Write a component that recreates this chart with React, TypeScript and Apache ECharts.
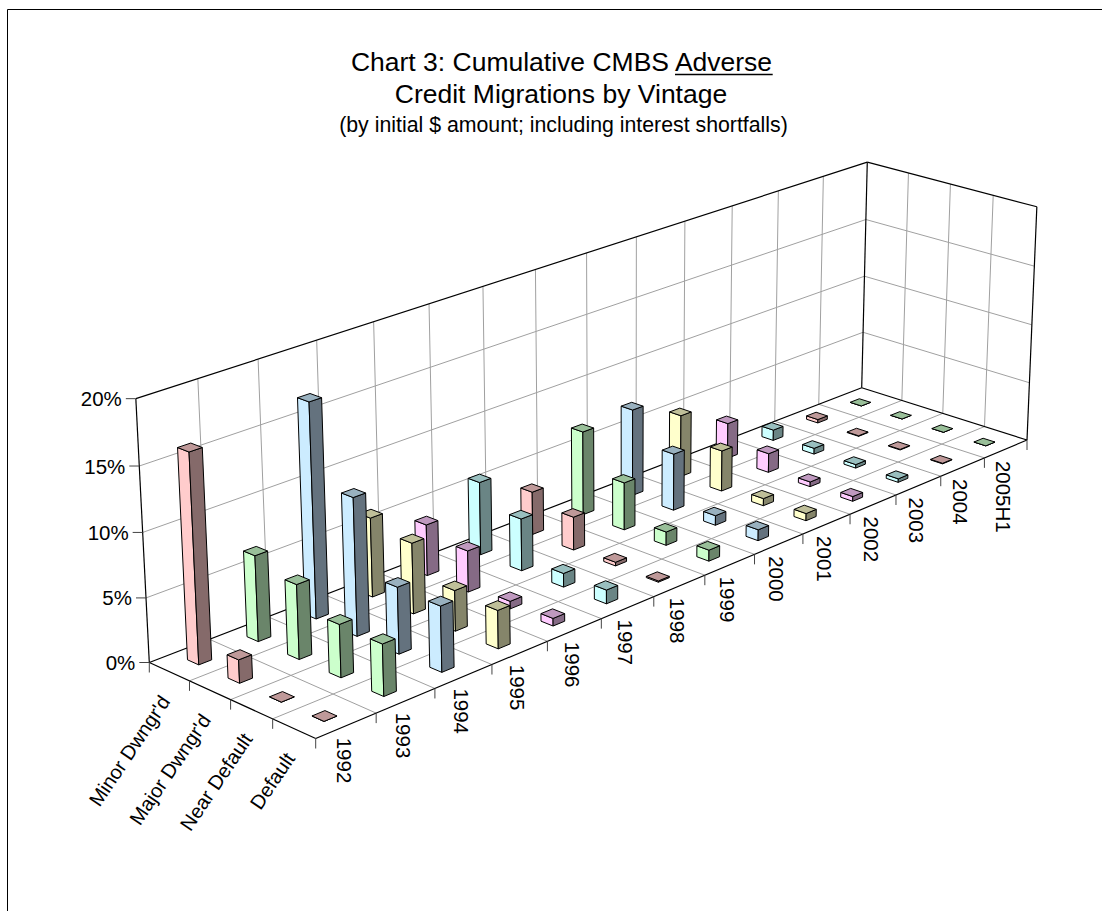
import React, { useEffect, useRef } from "react";
import * as echarts from "echarts";

// Cumulative adverse credit migrations, percent of initial amount, per vintage.
const vintages = ["1992", "1993", "1994", "1995", "1996", "1997", "1998", "1999", "2000", "2001", "2002", "2003", "2004", "2005H1"];
const grades = ["Minor Dwngr'd", "Major Dwngr'd", "Near Default", "Default"];
const yTicks = [0, 5, 10, 15, 20];

const minorDwngrd = [16.2, 6.7, 16.9, 6.3, 4.1, 5.9, 3.5, 6.9, 7.2, 5.2, 3.0, 0.9, 0.3, 0];
const majorDwngrd = [1.8, 5.8, 10.8, 5.6, 3.3, 4.2, 2.7, 3.9, 4.7, 3.4, 1.6, 0.5, 0.05, 0];
const nearDefault = [0, 4.1, 5.2, 3.2, 0.6, 1.1, 0.3, 1.1, 0.8, 0.6, 0.4, 0.3, 0.05, 0];
const defaulted = [0, 4.0, 5.1, 3.0, 0.6, 1.1, 0.1, 0.9, 0.9, 0.6, 0.4, 0.3, 0.05, 0];
const gradeValues = [minorDwngrd, majorDwngrd, nearDefault, defaulted];

// Faces cycle through six pastels along the vintage axis: [side, shaded side, top].
const palette = [
  ["#FFCCCC", "#856A6A", "#BF9999"],
  ["#CCFFCC", "#6A856A", "#99BF99"],
  ["#CCECFF", "#64727E", "#99B1BF"],
  ["#FFFFCC", "#85856A", "#BFBF99"],
  ["#FFCCFF", "#856A85", "#BF99BF"],
  ["#CCFFFF", "#6A8585", "#99BFBF"],
];

const FONT = '"Liberation Sans", Arial, sans-serif';
const WIDTH = 1102;
const HEIGHT = 911;
const BAR_FRACTION_U = 0.215;
const BAR_FRACTION_V = 0.28;

type P = [number, number];
// Screen positions of the box corners, used to fit the perspective camera.
const floorBackLeft: P = [149.3, 662.5];
const floorBackRight: P = [861.7, 387.7];
const floorFrontRight: P = [1027, 440];
const floorFrontLeft: P = [315.7, 738.5];
const topBackLeft: P = [136, 399.3];
const topBackRight: P = [867.3, 161.7];
const topFrontRight: P = [1036.7, 206.7];

function fitCamera() {
  const [x0, y0] = floorBackLeft;
  const [x1, y1] = floorBackRight;
  const [x2, y2] = floorFrontRight;
  const [x3, y3] = floorFrontLeft;
  const dx1 = x1 - x2, dx2 = x3 - x2, sx = x0 - x1 + x2 - x3;
  const dy1 = y1 - y2, dy2 = y3 - y2, sy = y0 - y1 + y2 - y3;
  const den = dx1 * dy2 - dx2 * dy1;
  const g = (sx * dy2 - dx2 * sy) / den;
  const h = (dx1 * sy - sx * dy1) / den;
  const a = x1 - x0 + g * x1, b = x3 - x0 + h * x3, c = x0;
  const d = y1 - y0 + g * y1, e = y3 - y0 + h * y3, f = y0;

  // Height column: least squares over the three visible top corners.
  const tops: [number, number, P][] = [[0, 0, topBackLeft], [1, 0, topBackRight], [1, 1, topFrontRight]];
  const rows: number[][] = [];
  for (const [u, v, [X, Y]] of tops) {
    const D = g * u + h * v + 1;
    rows.push([1, 0, -X, X * D - (a * u + b * v + c)]);
    rows.push([0, 1, -Y, Y * D - (d * u + e * v + f)]);
  }
  const M = [0, 1, 2].map((i) => [0, 1, 2, 3].map((j) => rows.reduce((s, r) => s + r[i] * r[j], 0)));
  for (let i = 0; i < 3; i++) {
    const piv = M[i][i];
    for (let j = i; j < 4; j++) M[i][j] /= piv;
    for (let k = 0; k < 3; k++) {
      if (k === i) continue;
      const t = M[k][i];
      for (let j = i; j < 4; j++) M[k][j] -= t * M[i][j];
    }
  }
  const p = M[0][3], q = M[1][3], r = M[2][3];
  return (u: number, v: number, w: number): P => {
    const D = g * u + h * v + r * w + 1;
    return [(a * u + b * v + c + p * w) / D, (d * u + e * v + f + q * w) / D];
  };
}
const project = fitCamera();

const line = (from: P, to: P, stroke: string, lineWidth = 1) => ({
  type: "line",
  silent: true,
  shape: { x1: from[0], y1: from[1], x2: to[0], y2: to[1] },
  style: { stroke, lineWidth },
});

const GRID_GREY = "#A0A0A0";
const AXIS_BLACK = "#000000";
const TICK_GREY = "#444444";

// Walls, floor, tick marks and tick labels of the box.
function renderFrame() {
  const children: any[] = [];
  const nU = vintages.length;
  const nV = grades.length;
  for (let i = 1; i < nU; i++) {
    const u = i / nU;
    children.push(line(project(u, 0, 0), project(u, 0, 1), GRID_GREY));
    children.push(line(project(u, 0, 0), project(u, 1, 0), GRID_GREY));
  }
  for (let j = 1; j < nV; j++) {
    const v = j / nV;
    children.push(line(project(1, v, 0), project(1, v, 1), GRID_GREY));
    children.push(line(project(0, v, 0), project(1, v, 0), GRID_GREY));
  }
  yTicks.slice(1, -1).forEach((t) => {
    const w = t / 20;
    children.push(line(project(0, 0, w), project(1, 0, w), GRID_GREY));
    children.push(line(project(1, 0, w), project(1, 1, w), GRID_GREY));
  });

  const outline: [P, P][] = [
    [project(0, 0, 0), project(0, 0, 1)],
    [project(0, 0, 1), project(1, 0, 1)],
    [project(1, 0, 1), project(1, 0, 0)],
    [project(1, 0, 1), project(1, 1, 1)],
    [project(1, 1, 1), project(1, 1, 0)],
    [project(0, 0, 0), project(1, 0, 0)],
    [project(1, 0, 0), project(1, 1, 0)],
    [project(1, 1, 0), project(0, 1, 0)],
    [project(0, 1, 0), project(0, 0, 0)],
  ];
  outline.forEach(([a, b]) => children.push(line(a, b, AXIS_BLACK, 1.2)));

  yTicks.forEach((t) => {
    const [x, y] = project(0, 0, t / 20);
    children.push(line([x - 10, y], [x, y], TICK_GREY));
    children.push({
      type: "text",
      silent: true,
      style: { text: `${t}%`, x: x - 14, y, align: "right", verticalAlign: "middle", fill: "#000", font: `20.5px ${FONT}` },
    });
  });

  for (let j = 0; j <= nV; j++) {
    const [x, y] = project(0, j / nV, 0);
    children.push(line([x, y], [x, y + 10], TICK_GREY));
  }
  grades.forEach((name, j) => {
    const [x, y] = project(0, (j + 0.5) / nV, 0);
    children.push({
      type: "text",
      silent: true,
      x: x - 4,
      y: y + 26,
      rotation: (56 * Math.PI) / 180,
      style: { text: name, x: 0, y: 0, align: "right", verticalAlign: "middle", fill: "#000", font: `20px ${FONT}` },
    });
  });

  for (let i = 1; i <= nU; i++) {
    const [x, y] = project(i / nU, 1, 0);
    children.push(line([x, y], [x, y + 10], TICK_GREY));
  }
  vintages.forEach((name, i) => {
    const [x, y] = project((i + 0.5) / nU, 1, 0);
    children.push({
      type: "text",
      silent: true,
      x: x - 2,
      y: y + 12,
      rotation: -Math.PI / 2,
      style: { text: name, x: 0, y: 0, align: "left", verticalAlign: "middle", fill: "#000", font: `20.5px ${FONT}` },
    });
  });
  return { type: "group", children };
}

// One column: the value goes through the hidden cartesian axes, then through the camera.
function renderColumn(params: any, api: any) {
  const vintageIdx = api.value(0);
  const gradeIdx = api.value(1);
  const value = api.value(2);
  const sys = params.coordSys;
  const anchor = api.coord([vintageIdx, value]);
  const size = api.size([1, 0]);
  const uc = (anchor[0] - sys.x) / sys.width;
  const w = (sys.y + sys.height - anchor[1]) / sys.height;
  const hu = ((size[0] / sys.width) * BAR_FRACTION_U) / 2;
  const vc = (gradeIdx + 0.5) / grades.length;
  const hv = ((1 / grades.length) * BAR_FRACTION_V) / 2;

  const left = (h: number) => project(uc - hu, vc - hv, h);
  const front = (h: number) => project(uc - hu, vc + hv, h);
  const right = (h: number) => project(uc + hu, vc + hv, h);
  const back = (h: number) => project(uc + hu, vc - hv, h);
  const colors = palette[vintageIdx % palette.length];
  const face = (points: P[], fill: string) => ({
    type: "polygon",
    silent: true,
    shape: { points },
    style: { fill, stroke: "#000", lineWidth: 1, lineJoin: "round" },
  });
  return {
    type: "group",
    children: [
      face([left(0), front(0), front(w), left(w)], colors[0]),
      face([front(0), right(0), right(w), front(w)], colors[1]),
      face([left(w), front(w), right(w), back(w)], colors[2]),
    ],
  };
}

// Far rows first so nearer columns paint over them.
const columnData: number[][] = [];
gradeValues.forEach((values, g) => {
  for (let i = values.length - 1; i >= 0; i--) columnData.push([i, g, values[i]]);
});

export default function App() {
  const ref = useRef<HTMLDivElement>(null);
  useEffect(() => {
    const chart = echarts.init(ref.current!, undefined, { renderer: "svg" });
    const titleFont = { fontFamily: FONT, fontWeight: "normal" as const, color: "#000" };
    chart.setOption({
      animation: false,
      backgroundColor: "#fff",
      title: [
        { text: "Chart 3: Cumulative CMBS Adverse", left: 556.5, top: 43, textAlign: "center", textStyle: { ...titleFont, fontSize: 26.5 } },
        { text: "Credit Migrations by Vintage", left: 556, top: 75.5, textAlign: "center", textStyle: { ...titleFont, fontSize: 26.5 } },
        { text: "(by initial $ amount; including interest shortfalls)", left: 558.5, top: 109, textAlign: "center", textStyle: { ...titleFont, fontSize: 21.3 } },
      ],
      grid: { left: 0, top: 0, width: WIDTH, height: HEIGHT, show: false },
      xAxis: { type: "category", data: vintages, show: false },
      yAxis: { type: "value", min: 0, max: 20, interval: 5, show: false },
      graphic: [
        { type: "polyline", silent: true, shape: { points: [[7.5, HEIGHT], [7.5, 9.5], [WIDTH, 9.5]] }, style: { stroke: "#000", lineWidth: 1, fill: "none" } },
        { type: "line", silent: true, shape: { x1: 675, y1: 74.5, x2: 772.7, y2: 74.5 }, style: { stroke: "#000", lineWidth: 1.5 } },
      ],
      series: [
        { type: "custom", silent: true, z: 1, data: [[0, 0]], encode: { x: 0, y: 1 }, renderItem: renderFrame },
        { type: "custom", silent: true, z: 2, data: columnData, dimensions: ["vintage", "grade", "value"], encode: { x: 0, y: 2 }, renderItem: renderColumn },
      ],
    });
    return () => chart.dispose();
  }, []);
  return <div ref={ref} style={{ position: "absolute", left: 0, top: 0, width: WIDTH, height: HEIGHT }} />;
}
